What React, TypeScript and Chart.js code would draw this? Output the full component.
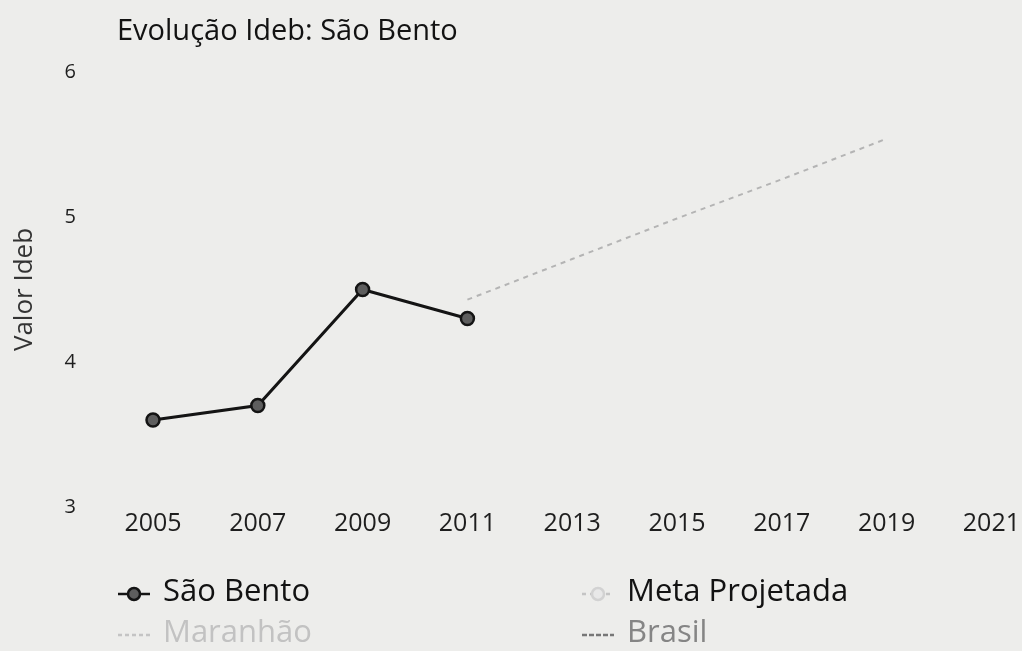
import React, { useEffect, useRef } from "react";
import { Chart, registerables } from "chart.js";

Chart.register(...registerables);

const years = ["2005", "2007", "2009", "2011", "2013", "2015", "2017", "2019", "2021"];
const saoBento = [3.6, 3.7, 4.5, 4.3, null, null, null, null, null];
const metaProjetada = [null, null, null, 4.43, 4.71, 4.99, 5.26, 5.54, null];
const maranhao = [null, null, null, null, null, null, null, null, null];
const brasil = [null, null, null, null, null, null, null, null, null];
const yMin = 3;
const yMax = 6;
const chartTitle = "Evolução Ideb: São Bento";
const yTitle = "Valor Ideb";

const FONT = "'Open Sans', 'DejaVu Sans', sans-serif";

const W = 1022;
const H = 651;

const backgroundPlugin = {
  id: "bg",
  beforeDraw(chart: any) {
    const ctx = chart.ctx;
    ctx.save();
    ctx.fillStyle = "#ededeb";
    ctx.fillRect(0, 0, chart.width, chart.height);
    ctx.restore();
  },
};

const titlePlugin = {
  id: "customTitle",
  afterDraw(chart: any) {
    const ctx = chart.ctx;
    ctx.save();
    ctx.font = `29px ${FONT}`;
    ctx.fillStyle = "#121212";
    ctx.textBaseline = "middle";
    ctx.textAlign = "left";
    ctx.fillText(chartTitle, 117, 32);
    ctx.restore();
  },
};

const legendPlugin = {
  id: "customLegend",
  afterDraw(chart: any) {
    const ctx = chart.ctx;
    const cols = [118, 582];
    const rows = [592, 633];
    chart.data.datasets.forEach((ds: any, i: number) => {
      const x = cols[i % 2];
      const y = rows[Math.floor(i / 2)];
      ctx.save();
      ctx.strokeStyle = ds.legendLine;
      ctx.lineWidth = 2.5;
      ctx.setLineDash(ds.legendDash || []);
      ctx.beginPath();
      ctx.moveTo(x, y + 2);
      ctx.lineTo(x + 32, y + 2);
      ctx.stroke();
      ctx.setLineDash([]);
      if (ds.legendMarker) {
        ctx.beginPath();
        ctx.arc(x + 16, y + 2, 6, 0, Math.PI * 2);
        ctx.fillStyle = ds.legendMarkerFill;
        ctx.fill();
        ctx.lineWidth = 2.5;
        ctx.strokeStyle = ds.legendMarker;
        ctx.stroke();
      }
      ctx.font = `31px ${FONT}`;
      ctx.fillStyle = ds.legendText;
      ctx.textBaseline = "middle";
      ctx.textAlign = "left";
      ctx.fillText(ds.label, x + 45, y);
      ctx.restore();
    });
  },
};

export default function App() {
  const ref = useRef<HTMLCanvasElement | null>(null);

  useEffect(() => {
    if (!ref.current) return;
    const chart = new Chart(ref.current, {
      type: "line",
      data: {
        labels: years,
        datasets: [
          {
            label: "São Bento",
            data: saoBento,
            borderColor: "#141414",
            borderWidth: 3,
            pointRadius: 6.5,
            pointBackgroundColor: "#5e5e5e",
            pointBorderColor: "#141414",
            pointBorderWidth: 2.5,
            spanGaps: false,
            legendLine: "#141414",
            legendMarker: "#141414",
            legendMarkerFill: "#5e5e5e",
            legendText: "#121212",
          } as any,
          {
            label: "Meta Projetada",
            data: metaProjetada,
            borderColor: "#b4b4b4",
            borderWidth: 2,
            borderDash: [5, 5],
            pointRadius: 0,
            legendLine: "#c4c4c4",
            legendDash: [4, 4],
            legendMarker: "#d2d2d2",
            legendMarkerFill: "#e8e8e8",
            legendText: "#121212",
          } as any,
          {
            label: "Maranhão",
            data: maranhao,
            borderColor: "#c8c8c8",
            borderWidth: 2,
            borderDash: [4, 4],
            pointRadius: 0,
            legendLine: "#c4c4c4",
            legendDash: [4, 3],
            legendText: "#c2c2c2",
          } as any,
          {
            label: "Brasil",
            data: brasil,
            borderColor: "#7a7a7a",
            borderWidth: 2,
            borderDash: [4, 4],
            pointRadius: 0,
            legendLine: "#777777",
            legendDash: [5, 2],
            legendText: "#858585",
          } as any,
        ],
      },
      options: {
        animation: false,
        responsive: false,
        events: [],
        layout: { padding: { left: 0, right: 27, top: 72, bottom: 94 } },
        plugins: {
          legend: { display: false },
          title: { display: false },
          tooltip: { enabled: false },
        },
        scales: {
          x: {
            type: "category",
            offset: false,
            grid: { display: false, drawTicks: false },
            border: { display: false },
            ticks: {
              color: "#1e1e1e",
              font: { family: FONT, size: 25 },
              padding: 2,
              maxRotation: 0,
              autoSkip: false,
            },
            afterFit: (s: any) => {
              s.height = 50;
            },
          },
          y: {
            min: yMin,
            max: yMax,
            grid: { display: false, drawTicks: false },
            border: { display: false },
            ticks: {
              stepSize: 1,
              color: "#1e1e1e",
              font: { family: FONT, size: 20 },
              padding: 77,
            },
            title: {
              display: true,
              text: yTitle,
              color: "#333333",
              font: { family: FONT, size: 26 },
              padding: { top: 9, bottom: 4 },
            },
            afterFit: (s: any) => {
              s.width = 153;
              s.paddingTop = 0;
              s.paddingBottom = 0;
            },
          },
        },
      },
      plugins: [backgroundPlugin, titlePlugin, legendPlugin],
    } as any);
    return () => chart.destroy();
  }, []);

  return (
    <div style={{ position: "fixed", left: 0, top: 0, width: W, height: H }}>
      <canvas ref={ref} width={W} height={H} style={{ width: W, height: H }} />
    </div>
  );
}
